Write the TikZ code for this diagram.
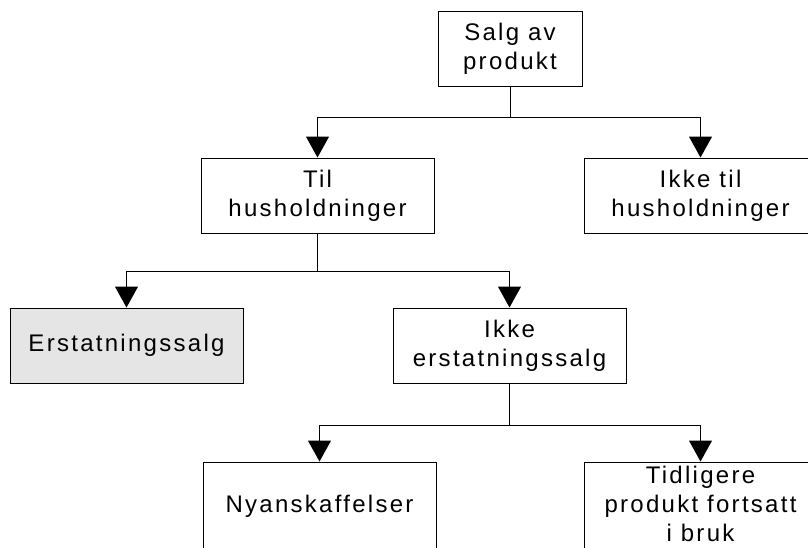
\documentclass[tikz,border=0pt]{standalone}
\usepackage{fontspec}
\setmainfont{Liberation Sans}[LetterSpace=9.5]
\usepackage{tikz}
\usetikzlibrary{positioning}
\usetikzlibrary{arrows.meta}

\begin{document}
\begin{tikzpicture}[
line width=1pt,
>={Triangle[width=23pt,length=21pt]},
boxnode/.style={rectangle, draw=black, fill=white, minimum width=233pt, minimum height=75pt, inner sep=0pt, align=center, font=\fontsize{24pt}{29pt}\selectfont},
greynode/.style={boxnode, fill=gray!20},
tallnode/.style={boxnode, minimum height=92pt, text depth=9pt},
]
\useasboundingbox (0,0) rectangle (808pt,-547pt);
\clip (0,0) rectangle (808pt,-547pt);

%Nodes
\node[boxnode, minimum width=144pt]	(salg)		at (510pt,-48.5pt)					{Salg av\\produkt};
\node[boxnode]		(tilhus)		[below=71pt of salg, xshift=-192.5pt]		{Til\\husholdninger};
\node[boxnode]		(ikketilhus)	[below=71pt of salg, xshift=190.5pt]		{Ikke til\\husholdninger};
\node[greynode]		(erstatning)	[below=74pt of tilhus, xshift=-191pt]		{Erstatningssalg};
\node[boxnode]		(ikkeerst)		[below=74pt of tilhus, xshift=192pt]		{Ikke\\erstatningssalg};
\node[tallnode]		(nyanskaff)		[below=78pt of ikkeerst, xshift=-190pt]		{Nyanskaffelser};
\node[tallnode]		(tidligere)		[below=78pt of ikkeerst, xshift=191pt]		{Tidligere\\produkt fortsatt\\i bruk};

%Lines
\draw[->] (salg.south) -- ++(0,-31pt) -| (tilhus.north);
\draw[->] (salg.south) -- ++(0,-31pt) -| (ikketilhus.north);
\draw[->] (tilhus.south) -- ++(0,-38pt) -| (erstatning.north);
\draw[->] (tilhus.south) -- ++(0,-38pt) -| (ikkeerst.north);
\draw[->] (ikkeerst.south) -- ++(0,-42pt) -| (nyanskaff.north);
\draw[->] (ikkeerst.south) -- ++(0,-42pt) -| (tidligere.north);
\end{tikzpicture}
\end{document}
